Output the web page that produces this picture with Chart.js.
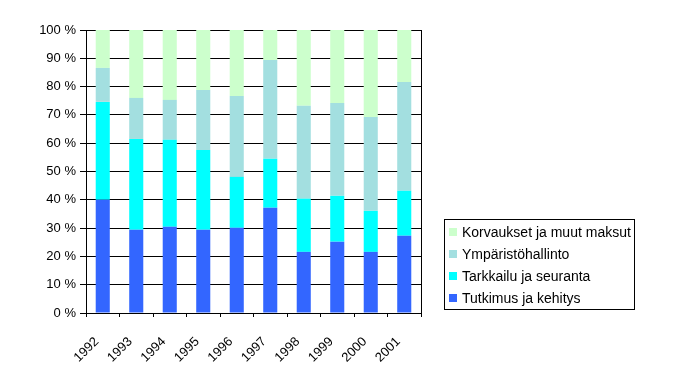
<!DOCTYPE html>
<html>
<head>
<meta charset="utf-8">
<script src="https://cdn.jsdelivr.net/npm/chart.js@4"></script>
<style>
html,body{margin:0;padding:0;background:#fff;}
#wrap{width:682px;height:381px;}
</style>
</head>
<body>
<div id="wrap"><canvas id="c" width="682" height="381"></canvas></div>
<script>
const years = ['1992','1993','1994','1995','1996','1997','1998','1999','2000','2001'];
const tutkimus = [40.0, 29.4, 30.5, 29.4, 30.1, 37.2, 21.6, 25.2, 21.6, 27.3];
const tarkkailu = [34.6, 32.1, 30.7, 28.2, 18.0, 17.3, 18.8, 16.2, 14.5, 15.9];
const hallinto = [12.0, 14.5, 14.1, 21.2, 28.6, 34.9, 32.8, 32.8, 33.2, 38.4];
const korvaukset = [13.4, 24.0, 24.7, 21.2, 23.3, 10.6, 26.8, 25.8, 30.7, 18.4];
const seriesNames = ['Tutkimus ja kehitys','Tarkkailu ja seuranta','Ympäristöhallinto','Korvaukset ja muut maksut'];
const yTicks = [0,10,20,30,40,50,60,70,80,90,100];

const FONT = '"Liberation Sans", Arial, sans-serif';
const colors = ['#3366FF','#00FFFF','#A3DFE0','#CCFFCC'];

const legendPlugin = {
  id: 'customLegend',
  afterDraw(chart) {
    const ctx = chart.ctx;
    const ca = chart.chartArea;
    ctx.save();
    ctx.strokeStyle = '#000';
    ctx.lineWidth = 1;
    ctx.beginPath();
    ctx.moveTo(Math.round(ca.right) + 0.5, ca.top);
    ctx.lineTo(Math.round(ca.right) + 0.5, ca.bottom);
    ctx.stroke();
    const bx = 444.5, by = 219.5, bw = 190, bh = 90;
    ctx.strokeRect(bx, by, bw, bh);
    ctx.font = '14px ' + FONT;
    ctx.textBaseline = 'middle';
    const ds = chart.data.datasets;
    for (let i = 0; i < ds.length; i++) {
      const d = ds[ds.length - 1 - i];
      const cy = 232 + i * 22;
      ctx.fillStyle = d.backgroundColor;
      ctx.fillRect(449, cy - 4, 8, 8);
      ctx.fillStyle = '#000';
      ctx.fillText(d.label, 462, cy + 1);
    }
    ctx.restore();
  }
};

const datasets = [tutkimus, tarkkailu, hallinto, korvaukset].map((vals, i) => ({
  label: seriesNames[i],
  data: vals,
  backgroundColor: colors[i],
  borderWidth: 0,
  barPercentage: 0.42,
  categoryPercentage: 1.0
}));

new Chart(document.getElementById('c'), {
  type: 'bar',
  data: { labels: years, datasets },
  options: {
    responsive: false,
    animation: false,
    layout: { padding: { top: 30, right: 261, left: 0, bottom: 0 } },
    plugins: { legend: { display: false }, tooltip: { enabled: false } },
    scales: {
      x: {
        stacked: true,
        grid: { display: true, drawOnChartArea: false, drawTicks: true, tickLength: 4, color: '#000', offset: true },
        border: { display: true, color: '#000' },
        ticks: { color: '#000', font: { family: FONT, size: 13 }, maxRotation: 45, minRotation: 45, padding: 17, labelOffset: -6, autoSkip: false },
        afterFit(s) { s.height = 68; }
      },
      y: {
        stacked: true,
        min: 0, max: 100,
        afterBuildTicks(s) { s.ticks = yTicks.map(v => ({ value: v })); },
        grid: { color: '#000', tickLength: 6 },
        border: { display: true, color: '#000' },
        ticks: { color: '#000', font: { family: FONT, size: 13 }, padding: 4, callback: v => v + ' %' },
        afterFit(s) { s.width = 86; }
      }
    }
  },
  plugins: [legendPlugin]
});
</script>
</body>
</html>
